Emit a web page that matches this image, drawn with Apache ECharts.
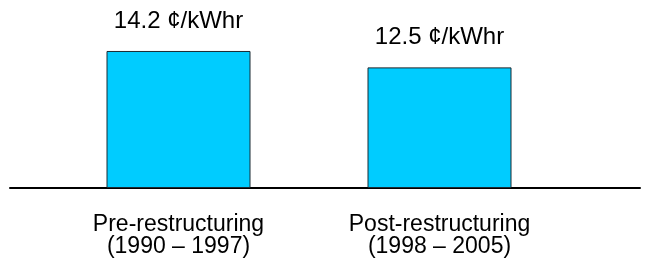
<!DOCTYPE html>
<html>
<head>
<meta charset="utf-8">
<script src="https://cdn.jsdelivr.net/npm/echarts@6/dist/echarts.min.js"></script>
<style>
  html, body { margin: 0; padding: 0; background: #fff; }
  #main { width: 652px; height: 263px; }
</style>
</head>
<body>
<div id="main"></div>
<script>
// chart data
const categories = ['Pre-restructuring\n(1990 – 1997)', 'Post-restructuring\n(1998 – 2005)'];
const prices = [14.2, 12.5];
const unit = '¢/kWhr';

const chart = echarts.init(document.getElementById('main'), null, { renderer: 'canvas' });

const option = {
  backgroundColor: '#fff',
  animation: false,
  textStyle: { fontFamily: 'Liberation Sans, Arial, sans-serif' },
  grid: [
    { left: 48, right: 82, top: 33.6, bottom: 75 },
    // wide grid only used to draw the long baseline
    { left: 10, right: 12, top: 33.6, bottom: 75 }
  ],
  xAxis: [
    {
      type: 'category',
      gridIndex: 0,
      data: categories,
      axisLine: { show: false },
      axisTick: { show: false },
      axisLabel: {
        color: '#000',
        fontSize: 23,
        lineHeight: 22,
        margin: 26,
        fontFamily: 'Liberation Sans, Arial, sans-serif'
      }
    },
    {
      type: 'value',
      gridIndex: 1,
      min: 0,
      max: 1,
      axisLine: { show: true, lineStyle: { color: '#000', width: 2 } },
      axisTick: { show: false },
      axisLabel: { show: false },
      splitLine: { show: false }
    }
  ],
  yAxis: [
    { type: 'value', gridIndex: 0, min: 0, max: 16, show: false },
    { type: 'value', gridIndex: 1, min: 0, max: 16, show: false }
  ],
  series: [
    {
      type: 'bar',
      xAxisIndex: 0,
      yAxisIndex: 0,
      data: prices,
      barWidth: 144,
      itemStyle: { color: '#00CCFF', borderColor: '#1a2a33', borderWidth: 1 },
      label: {
        show: true,
        position: 'top',
        distance: 18,
        color: '#000',
        fontSize: 24,
        fontFamily: 'Liberation Sans, Arial, sans-serif',
        formatter: p => p.value.toFixed(1) + ' ' + unit
      }
    }
  ]
};

chart.setOption(option);
</script>
</body>
</html>
